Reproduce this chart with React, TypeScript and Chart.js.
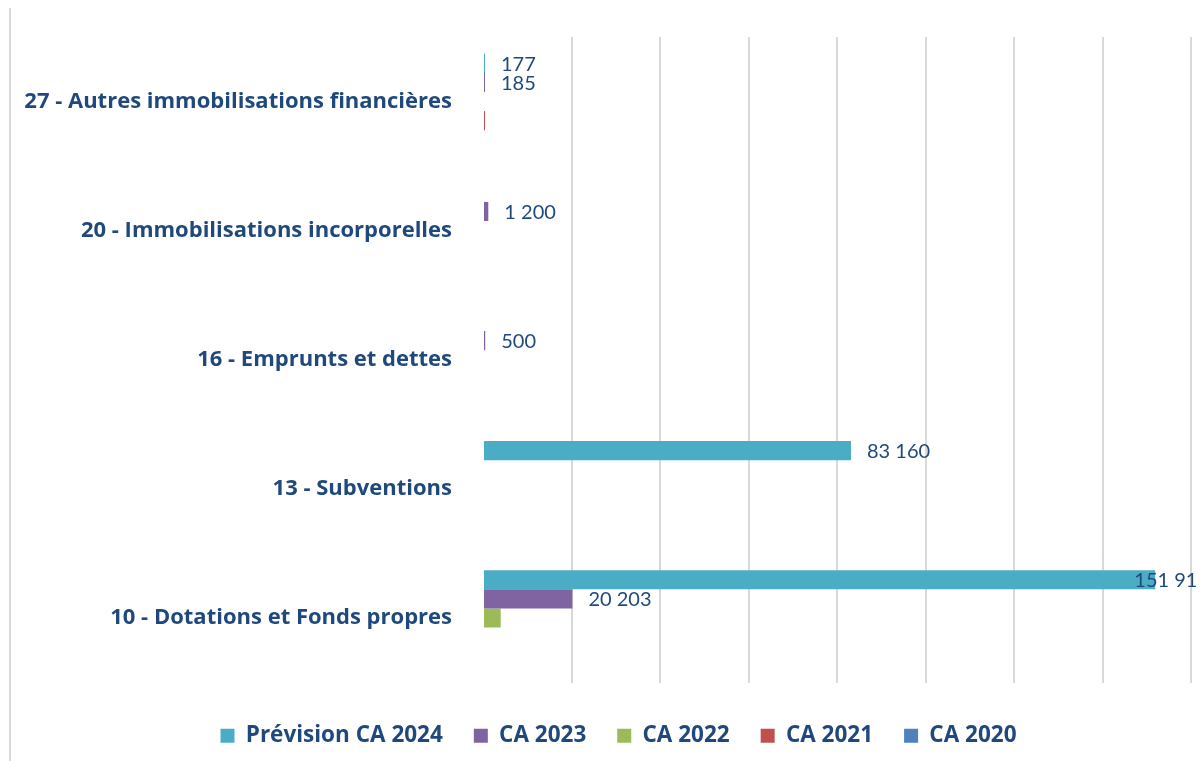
import React, { useEffect, useRef } from "react";
import { Chart, registerables } from "chart.js";

Chart.register(...registerables);

const categories = [
  "27 - Autres immobilisations financières",
  "20 - Immobilisations incorporelles",
  "16 - Emprunts et dettes",
  "13 - Subventions",
  "10 - Dotations et Fonds propres",
];

const seriesNames = ["Prévision CA 2024", "CA 2023", "CA 2022", "CA 2021", "CA 2020"];
const prevision2024: (number | null)[] = [177, null, null, 83160, 151919];
const ca2023: (number | null)[] = [185, 1200, 500, null, 20203];
const ca2022: (number | null)[] = [null, null, null, null, 4000];
const ca2021: (number | null)[] = [150, null, null, null, null];
const ca2020: (number | null)[] = [null, null, null, null, null];
const seriesColors = ["#4BACC6", "#8064A2", "#9BBB59", "#C0504D", "#4F81BD"];
const labelledSeries = [0, 1];

const axisMax = 160000;
const axisStep = 20000;

const TEXT = "#1F497D";
const FONT = "'Open Sans'";

function fmt(v: number): string {
  return String(Math.round(v)).replace(/\B(?=(\d{3})+(?!\d))/g, " ");
}

const valueLabels = {
  id: "valueLabels",
  afterDraw(chart: any) {
    const ctx = chart.ctx;
    ctx.save();
    ctx.font = `400 20px Lato`;
    ctx.fillStyle = TEXT;
    ctx.textAlign = "left";
    ctx.textBaseline = "middle";
    const limit = chart.chartArea.right + 18;
    labelledSeries.forEach((di) => {
      const meta = chart.getDatasetMeta(di);
      const data = chart.data.datasets[di].data;
      meta.data.forEach((el: any, i: number) => {
        const v = data[i];
        if (v === null || v === undefined) return;
        const txt = fmt(v);
        const w = ctx.measureText(txt).width;
        const x = Math.min(el.x + 16, limit - w);
        ctx.fillText(txt, x, el.y + 1);
      });
    });
    ctx.restore();
  },
};

// centre the legend on the full chart width (the right padding keeps the plot narrower)
const legendCentre = {
  id: "legendCentre",
  afterLayout(chart: any) {
    if (chart.legend) {
      chart.legend.right += 36;
    }
  },
};

export default function App() {
  const ref = useRef<HTMLCanvasElement>(null);
  useEffect(() => {
    if (!ref.current) return;
    const all = [prevision2024, ca2023, ca2022, ca2021, ca2020];
    const chart = new Chart(ref.current, {
      type: "bar",
      data: {
        labels: categories,
        datasets: all.map((d, i) => ({
          label: seriesNames[i],
          data: d,
          backgroundColor: seriesColors[i],
          borderWidth: 0,
          categoryPercentage: 0.74,
          barPercentage: 1,
          minBarLength: 2,
        })),
      },
      options: {
        indexAxis: "y",
        animation: false,
        responsive: false,
        maintainAspectRatio: false,
        layout: { padding: { left: 0, top: 29, right: 35, bottom: 11 } },
        scales: {
          x: {
            min: 0,
            max: axisMax,
            ticks: { display: false, stepSize: axisStep },
            grid: {
              drawTicks: false,
              lineWidth: 2,
              color: (c: any) => (c.tick && c.tick.value === 0 ? "rgba(0,0,0,0)" : "#D9D9D9"),
            },
            border: { display: false },
            afterFit: (s: any) => {
              s.height = 11;
            },
          },
          y: {
            ticks: {
              color: TEXT,
              font: { family: FONT, size: 22, weight: "bold" },
              padding: 31,
            },
            grid: { display: false, drawTicks: false },
            border: { display: false },
            afterFit: (s: any) => {
              s.width = 473;
              s.paddingTop = 0;
              s.paddingBottom = 0;
            },
          },
        },
        plugins: {
          legend: {
            position: "bottom",
            labels: {
              color: TEXT,
              font: { family: FONT, size: 22.5, weight: "bold" },
              boxWidth: 14,
              boxHeight: 14,
              padding: 31,
            },
          },
          tooltip: { enabled: false },
        },
      },
      plugins: [valueLabels, legendCentre],
    });
    return () => chart.destroy();
  }, []);

  return (
    <div
      style={{
        position: "relative",
        width: 1196,
        height: 756,
        marginTop: -3,
        overflow: "hidden",
        background: "#fff",
      }}
    >
      <div style={{ position: "absolute", left: 1, top: 0, width: 1300, height: 1, background: "#D9D9D9" }} />
      <div style={{ position: "absolute", left: 1, top: 0, width: 2, height: 800, background: "#D9D9D9" }} />
      <canvas
        ref={ref}
        width={1216}
        height={760}
        style={{ position: "absolute", left: 2, top: 3, display: "block" }}
      />
    </div>
  );
}
